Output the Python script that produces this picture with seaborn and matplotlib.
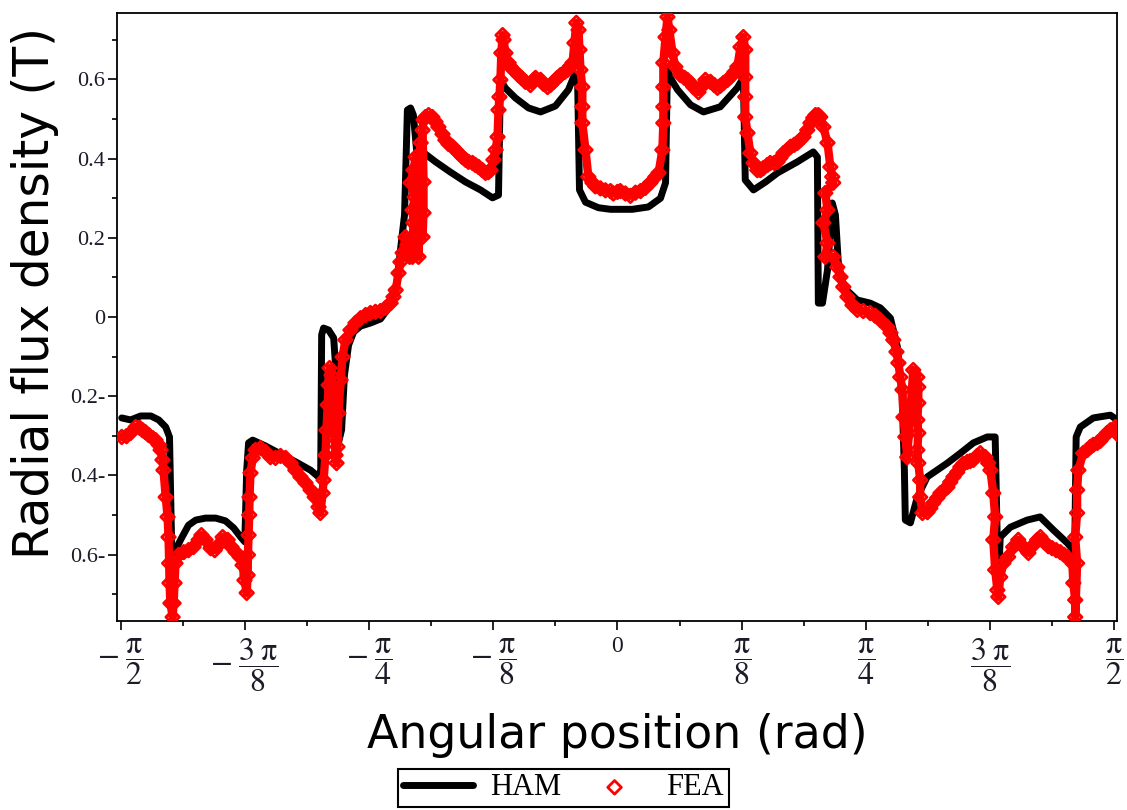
import numpy as np
import matplotlib
matplotlib.use("Agg")
import matplotlib.pyplot as plt
from matplotlib.ticker import FixedLocator, MultipleLocator
import seaborn as sns

# Radial flux density along the air gap: analytical model (HAM) and finite elements (FEA)
ham_theta = [-1.567, -1.539, -1.507, -1.475, -1.450, -1.428, -1.416, -1.409, -1.406, -1.400,
             -1.394, -1.381, -1.356, -1.333, -1.302, -1.270, -1.239, -1.213, -1.191, -1.178,
             -1.172, -1.166, -1.153, -1.112, -1.065, -1.017, -0.970, -0.945, -0.938, -0.935,
             -0.929, -0.913, -0.897, -0.888, -0.882, -0.872, -0.863, -0.850, -0.834, -0.812,
             -0.780, -0.749, -0.717, -0.698, -0.686, -0.673, -0.664, -0.654, -0.645, -0.635,
             -0.616, -0.575, -0.528, -0.480, -0.433, -0.395, -0.376, -0.370, -0.354, -0.322,
             -0.281, -0.243, -0.196, -0.155, -0.136, -0.126, -0.120, -0.101, -0.060, -0.022,
             0.009, 0.047, 0.098, 0.136, 0.152, 0.158, 0.167, 0.190, 0.231, 0.272,
             0.325, 0.379, 0.398, 0.404, 0.430, 0.468, 0.506, 0.569, 0.619, 0.632,
             0.635, 0.648, 0.664, 0.679, 0.689, 0.698, 0.714, 0.758, 0.799, 0.831,
             0.863, 0.885, 0.900, 0.907, 0.910, 0.926, 0.948, 0.979, 1.043, 1.084,
             1.125, 1.169, 1.194, 1.201, 1.204, 1.210, 1.242, 1.295, 1.336, 1.378,
             1.422, 1.441, 1.444, 1.450, 1.463, 1.504, 1.558, 1.580]
ham_b = [-0.255, -0.260, -0.250, -0.250, -0.260, -0.278, -0.303, -0.576, -0.702, -0.614,
         -0.584, -0.563, -0.526, -0.513, -0.508, -0.508, -0.515, -0.533, -0.556, -0.568,
         -0.387, -0.318, -0.311, -0.326, -0.346, -0.366, -0.387, -0.404, -0.387, -0.045,
         -0.028, -0.033, -0.053, -0.159, -0.318, -0.285, -0.147, -0.071, -0.038, -0.023,
         -0.015, -0.005, 0.030, 0.081, 0.169, 0.258, 0.523, 0.528, 0.510, 0.422,
         0.417, 0.392, 0.366, 0.341, 0.321, 0.301, 0.308, 0.599, 0.578, 0.553,
         0.528, 0.518, 0.533, 0.574, 0.611, 0.599, 0.321, 0.290, 0.276, 0.272,
         0.272, 0.272, 0.278, 0.300, 0.339, 0.632, 0.604, 0.574, 0.536, 0.518,
         0.531, 0.579, 0.604, 0.346, 0.321, 0.341, 0.364, 0.392, 0.417, 0.404,
         0.035, 0.035, 0.119, 0.288, 0.258, 0.139, 0.076, 0.043, 0.035, 0.023,
         -0.003, -0.076, -0.202, -0.387, -0.513, -0.520, -0.455, -0.404, -0.369, -0.344,
         -0.318, -0.303, -0.303, -0.581, -0.677, -0.556, -0.531, -0.513, -0.505, -0.538,
         -0.571, -0.589, -0.677, -0.303, -0.278, -0.255, -0.248, -0.260]

fea_theta = [-1.567, -1.552, -1.539, -1.523, -1.510, -1.501, -1.492, -1.482, -1.469, -1.460,
             -1.450, -1.444, -1.438, -1.435, -1.428, -1.422, -1.419, -1.417, -1.416, -1.413,
             -1.406, -1.403, -1.400, -1.397, -1.387, -1.371, -1.356, -1.340, -1.324, -1.315,
             -1.302, -1.286, -1.273, -1.261, -1.248, -1.232, -1.220, -1.207, -1.194, -1.185,
             -1.179, -1.172, -1.169, -1.168, -1.166, -1.164, -1.163, -1.160, -1.153, -1.144,
             -1.128, -1.112, -1.097, -1.081, -1.065, -1.049, -1.033, -1.018, -1.002, -0.986,
             -0.970, -0.957, -0.945, -0.939, -0.932, -0.929, -0.923, -0.920, -0.916, -0.913,
             -0.910, -0.904, -0.901, -0.897, -0.894, -0.891, -0.888, -0.885, -0.882, -0.875,
             -0.869, -0.860, -0.844, -0.828, -0.812, -0.796, -0.781, -0.765, -0.749, -0.733,
             -0.717, -0.708, -0.701, -0.692, -0.686, -0.679, -0.670, -0.664, -0.657, -0.648,
             -0.645, -0.648, -0.641, -0.654, -0.645, -0.638, -0.629, -0.622, -0.616, -0.613,
             -0.613, -0.616, -0.613, -0.607, -0.597, -0.585, -0.575, -0.566, -0.553, -0.544,
             -0.534, -0.521, -0.512, -0.502, -0.490, -0.480, -0.471, -0.458, -0.449, -0.439,
             -0.427, -0.417, -0.408, -0.401, -0.392, -0.385, -0.379, -0.376, -0.373, -0.370,
             -0.367, -0.363, -0.360, -0.354, -0.344, -0.338, -0.329, -0.313, -0.303, -0.291,
             -0.275, -0.265, -0.259, -0.243, -0.234, -0.221, -0.212, -0.202, -0.190, -0.180,
             -0.167, -0.158, -0.149, -0.142, -0.136, -0.130, -0.123, -0.120, -0.117, -0.111,
             -0.111, -0.111, -0.101, -0.092, -0.079, -0.070, -0.054, -0.038, -0.022, -0.013,
             0.000, 0.009, 0.025, 0.041, 0.057, 0.073, 0.088, 0.104, 0.120, 0.130,
             0.142, 0.145, 0.145, 0.145, 0.145, 0.152, 0.158, 0.164, 0.174, 0.183,
             0.199, 0.212, 0.221, 0.231, 0.240, 0.256, 0.269, 0.278, 0.294, 0.306,
             0.316, 0.325, 0.335, 0.348, 0.357, 0.370, 0.379, 0.389, 0.398, 0.404,
             0.404, 0.404, 0.404, 0.411, 0.420, 0.430, 0.442, 0.452, 0.461, 0.474,
             0.483, 0.496, 0.506, 0.515, 0.525, 0.537, 0.547, 0.559, 0.569, 0.578,
             0.588, 0.600, 0.610, 0.619, 0.626, 0.635, 0.641, 0.651, 0.664, 0.673,
             0.679, 0.682, 0.657, 0.664, 0.651, 0.664, 0.657, 0.682, 0.695, 0.705,
             0.714, 0.727, 0.743, 0.758, 0.777, 0.799, 0.815, 0.831, 0.853, 0.863,
             0.872, 0.882, 0.888, 0.894, 0.901, 0.904, 0.910, 0.916, 0.935, 0.948,
             0.951, 0.951, 0.948, 0.951, 0.948, 0.951, 0.957, 0.957, 0.964, 0.980,
             0.989, 0.998, 1.011, 1.021, 1.033, 1.043, 1.052, 1.062, 1.074, 1.084,
             1.093, 1.106, 1.115, 1.125, 1.137, 1.147, 1.163, 1.172, 1.179, 1.188,
             1.194, 1.188, 1.194, 1.201, 1.204, 1.210, 1.220, 1.235, 1.251, 1.267,
             1.283, 1.299, 1.315, 1.327, 1.337, 1.352, 1.362, 1.374, 1.387, 1.400,
             1.412, 1.422, 1.438, 1.441, 1.447, 1.447, 1.453, 1.447, 1.453, 1.453,
             1.457, 1.472, 1.485, 1.495, 1.504, 1.517, 1.526, 1.536, 1.548, 1.558,
             1.574, 1.583]
fea_b = [-0.303, -0.301, -0.293, -0.278, -0.280, -0.286, -0.291, -0.298, -0.306, -0.311,
         -0.323, -0.336, -0.361, -0.387, -0.455, -0.505, -0.556, -0.622, -0.672, -0.723,
         -0.758, -0.723, -0.672, -0.622, -0.601, -0.594, -0.589, -0.581, -0.563, -0.551,
         -0.563, -0.584, -0.589, -0.576, -0.556, -0.563, -0.581, -0.594, -0.606, -0.627,
         -0.665, -0.697, -0.652, -0.601, -0.551, -0.500, -0.455, -0.394, -0.356, -0.336,
         -0.331, -0.341, -0.354, -0.356, -0.351, -0.356, -0.369, -0.387, -0.404, -0.419,
         -0.437, -0.455, -0.480, -0.495, -0.445, -0.412, -0.349, -0.286, -0.222, -0.172,
         -0.129, -0.147, -0.197, -0.248, -0.306, -0.349, -0.369, -0.328, -0.243, -0.159,
         -0.101, -0.058, -0.033, -0.015, -0.003, 0.005, 0.010, 0.013, 0.015, 0.023,
         0.035, 0.051, 0.068, 0.111, 0.139, 0.162, 0.202, 0.182, 0.152, 0.152,
         0.238, 0.270, 0.303, 0.339, 0.371, 0.404, 0.152, 0.440, 0.202, 0.263,
         0.341, 0.472, 0.498, 0.505, 0.510, 0.505, 0.493, 0.480, 0.462, 0.447,
         0.437, 0.430, 0.422, 0.414, 0.404, 0.397, 0.392, 0.389, 0.384, 0.379,
         0.371, 0.364, 0.366, 0.371, 0.397, 0.422, 0.455, 0.523, 0.556, 0.599,
         0.667, 0.712, 0.700, 0.667, 0.642, 0.632, 0.624, 0.611, 0.604, 0.594,
         0.586, 0.599, 0.604, 0.599, 0.589, 0.581, 0.586, 0.594, 0.604, 0.611,
         0.619, 0.624, 0.634, 0.642, 0.692, 0.743, 0.725, 0.675, 0.624, 0.581,
         0.531, 0.490, 0.422, 0.354, 0.339, 0.330, 0.325, 0.320, 0.318, 0.312,
         0.316, 0.318, 0.312, 0.306, 0.314, 0.318, 0.326, 0.339, 0.354, 0.364,
         0.422, 0.490, 0.531, 0.581, 0.642, 0.707, 0.758, 0.725, 0.667, 0.632,
         0.611, 0.604, 0.599, 0.591, 0.581, 0.568, 0.584, 0.599, 0.594, 0.586,
         0.579, 0.584, 0.591, 0.599, 0.606, 0.619, 0.632, 0.682, 0.707, 0.675,
         0.606, 0.556, 0.505, 0.465, 0.414, 0.389, 0.371, 0.371, 0.376, 0.384,
         0.389, 0.389, 0.392, 0.402, 0.414, 0.422, 0.430, 0.435, 0.440, 0.447,
         0.455, 0.472, 0.490, 0.503, 0.510, 0.510, 0.505, 0.480, 0.440, 0.379,
         0.354, 0.339, 0.313, 0.270, 0.238, 0.187, 0.152, 0.152, 0.126, 0.101,
         0.076, 0.051, 0.030, 0.018, 0.015, 0.010, 0.003, -0.008, -0.025, -0.040,
         -0.058, -0.088, -0.116, -0.152, -0.184, -0.253, -0.303, -0.354, -0.134, -0.152,
         -0.177, -0.217, -0.260, -0.293, -0.336, -0.369, -0.412, -0.455, -0.495, -0.493,
         -0.483, -0.470, -0.457, -0.445, -0.437, -0.430, -0.417, -0.404, -0.392, -0.379,
         -0.371, -0.366, -0.364, -0.361, -0.351, -0.344, -0.354, -0.369, -0.387, -0.445,
         -0.505, -0.563, -0.639, -0.690, -0.707, -0.657, -0.622, -0.606, -0.581, -0.563,
         -0.581, -0.596, -0.576, -0.563, -0.556, -0.571, -0.579, -0.584, -0.589, -0.594,
         -0.601, -0.606, -0.622, -0.672, -0.715, -0.758, -0.622, -0.556, -0.495, -0.437,
         -0.387, -0.344, -0.336, -0.328, -0.323, -0.318, -0.313, -0.303, -0.293, -0.286,
         -0.278, -0.298]

# Axis ticks: multiples of pi/8 on x, 0.2 T steps on y
x_tick_eighths = [-4, -3, -2, -1, 0, 1, 2, 3, 4]
x_tick_labels = [r"$-\;\dfrac{\mathrm{\pi}}{2}$", r"$-\;\dfrac{3\;\mathrm{\pi}}{8}$",
                 r"$-\;\dfrac{\mathrm{\pi}}{4}$", r"$-\;\dfrac{\mathrm{\pi}}{8}$", "0",
                 r"$\dfrac{\mathrm{\pi}}{8}$", r"$\dfrac{\mathrm{\pi}}{4}$",
                 r"$\dfrac{3\;\mathrm{\pi}}{8}$", r"$\dfrac{\mathrm{\pi}}{2}$"]
y_ticks = [-0.6, -0.4, -0.2, 0.0, 0.2, 0.4, 0.6]
y_tick_labels = ["0.6-", "0.4-", "0.2-", "0", "0.2", "0.4", "0.6"]

sns.set_theme(style="ticks")
plt.rcParams["font.family"] = ["DejaVu Sans"]
plt.rcParams["mathtext.fontset"] = "stix"
plt.rcParams["text.color"] = "black"
plt.rcParams["axes.labelcolor"] = "black"

fig, ax = plt.subplots(figsize=(11.27, 8.10), dpi=100)
fig.subplots_adjust(left=0.1038, right=0.9911, top=0.984, bottom=0.2333)

sns.lineplot(x=ham_theta, y=ham_b, sort=False, estimator=None, color="black",
             linewidth=5.0, ax=ax, label="HAM", zorder=2)
# trace joining the FEA samples so the densely sampled stretches read as a band
sns.lineplot(x=fea_theta, y=fea_b, sort=False, estimator=None, color="red",
             linewidth=6.0, ax=ax, legend=False, zorder=3)
sns.scatterplot(x=fea_theta, y=fea_b, marker="D", s=48, color="red",
                facecolor="none", edgecolor="red", linewidth=2.0, ax=ax,
                label="FEA", zorder=4)

ax.set_xlim(-1.582, 1.579)
ax.set_ylim(-0.768, 0.768)

ax.xaxis.set_major_locator(FixedLocator(np.pi * np.array(x_tick_eighths) / 8))
ax.xaxis.set_minor_locator(FixedLocator(np.pi * np.arange(-7, 8, 2) / 16))
ax.set_xticklabels(x_tick_labels, fontsize=23, family="Liberation Serif", color="#1c1c28")
ax.get_xticklabels()[4].set_fontsize(17)
ax.yaxis.set_major_locator(FixedLocator(y_ticks))
ax.yaxis.set_minor_locator(MultipleLocator(0.1))
ax.set_yticklabels(y_tick_labels, fontsize=16, family="Liberation Serif", color="#1c1c28")

ax.tick_params(axis="both", which="major", direction="out", length=6.5, width=1.2,
               color="black")
ax.tick_params(axis="both", which="minor", direction="out", length=3.5, width=1.2,
               color="black")
ax.tick_params(axis="x", which="major", pad=4)
ax.tick_params(axis="y", which="major", pad=2)

for side in ["left", "right", "top", "bottom"]:
    ax.spines[side].set_visible(True)
    ax.spines[side].set_color("black")
    ax.spines[side].set_linewidth(1.3)

ax.set_xlabel("Angular position (rad)", fontsize=33, family="DejaVu Sans",
              va="center", color="black")
ax.xaxis.set_label_coords(0.5, -0.188)
ax.set_ylabel("Radial flux density (T)", fontsize=35, family="DejaVu Sans",
              va="center", color="black")
ax.yaxis.set_label_coords(-0.082, 0.54)

handles, labels = ax.get_legend_handles_labels()
ax.get_legend().remove()
leg = fig.legend(handles, labels, loc="lower center", bbox_to_anchor=(0.5, 0.0),
                 ncol=2, frameon=True, fancybox=False, framealpha=1,
                 edgecolor="black", scatterpoints=1,
                 prop={"family": "Liberation Serif", "size": 22},
                 handlelength=2.3, handletextpad=0.55, columnspacing=0.6,
                 borderpad=0.15, borderaxespad=0.1)
leg.get_frame().set_linewidth(1.5)

fig.savefig("out.png", dpi=100)
